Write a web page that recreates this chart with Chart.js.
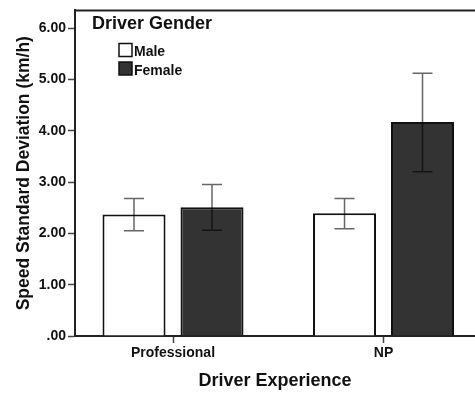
<!DOCTYPE html>
<html>
<head>
<meta charset="utf-8">
<script src="https://cdn.jsdelivr.net/npm/chart.js@4.4.1/dist/chart.umd.min.js"></script>
<style>
    html, body { margin: 0; padding: 0; background: #fff; overflow: hidden; }
    #wrap { width: 475px; height: 398px; position: relative; }
</style>
</head>
<body>
<div id="wrap"><canvas id="chart"></canvas></div>
<script>
const categories = ['Professional', 'NP'];
const seriesNames = ['Male', 'Female'];
const maleMeans = [2.37, 2.39];
const femaleMeans = [2.51, 4.17];
const maleLow = [2.05, 2.09];
const maleHigh = [2.68, 2.68];
const femaleLow = [2.06, 3.20];
const femaleHigh = [2.95, 5.12];
const yTicks = [0, 1, 2, 3, 4, 5, 6];

const FONT = "'Liberation Sans', Arial, sans-serif";

// error bars drawn after the bars, from the low/high arrays
const errorBars = {
    id: 'errorBars',
    afterDatasetsDraw(chart) {
        const ctx = chart.ctx;
        const y = chart.scales.y;
        const ranges = [[maleLow, maleHigh], [femaleLow, femaleHigh]];
        ctx.save();
        ctx.strokeStyle = 'rgba(0,0,0,0.6)';
        ctx.lineWidth = 1.5;
        chart.data.datasets.forEach((ds, i) => {
            chart.getDatasetMeta(i).data.forEach((bar, j) => {
                const lo = y.getPixelForValue(ranges[i][0][j]);
                const hi = y.getPixelForValue(ranges[i][1][j]);
                ctx.beginPath();
                ctx.moveTo(bar.x, lo); ctx.lineTo(bar.x, hi);
                ctx.moveTo(bar.x - 10, lo); ctx.lineTo(bar.x + 10, lo);
                ctx.moveTo(bar.x - 10, hi); ctx.lineTo(bar.x + 10, hi);
                ctx.stroke();
            });
        });
        ctx.restore();
    }
};

// top frame line + legend block in the corner
const frame = {
    id: 'frame',
    afterDraw(chart) {
        const ctx = chart.ctx;
        const a = chart.chartArea;
        ctx.save();
        ctx.strokeStyle = '#222';
        ctx.lineWidth = 2;
        ctx.beginPath();
        ctx.moveTo(a.left - 1, a.top);
        ctx.lineTo(a.right, a.top);
        ctx.stroke();

        ctx.fillStyle = '#111';
        ctx.font = 'bold 18px ' + FONT;
        ctx.textBaseline = 'alphabetic';
        ctx.fillText('Driver Gender', 92, 29);

        ctx.font = 'bold 14px ' + FONT;
        chart.data.datasets.forEach((ds, i) => {
            const top = 43.5 + i * 18.5;
            ctx.fillStyle = ds.backgroundColor;
            ctx.fillRect(119, top, 13, 13);
            ctx.lineWidth = 1.5;
            ctx.strokeStyle = '#111';
            ctx.strokeRect(119, top, 13, 13);
            ctx.fillStyle = '#111';
            ctx.fillText(ds.label, 134, top + 12.5);
        });
        ctx.restore();
    }
};

new Chart(document.getElementById('chart'), {
    type: 'bar',
    data: {
        datasets: [
            {
                label: seriesNames[0],
                data: maleMeans.map((v, i) => ({ x: i + 1, y: v })),
                backgroundColor: '#ffffff',
                borderColor: '#111',
                borderWidth: 2
            },
            {
                label: seriesNames[1],
                data: femaleMeans.map((v, i) => ({ x: i + 1, y: v })),
                backgroundColor: '#333333',
                borderColor: '#111',
                borderWidth: 2
            }
        ]
    },
    options: {
        responsive: true,
        maintainAspectRatio: false,
        animation: false,
        categoryPercentage: 0.741,
        barPercentage: 0.808,
        layout: { padding: { top: 6, left: 0, right: 0, bottom: 0 } },
        plugins: {
            legend: { display: false },
            tooltip: { enabled: false }
        },
        scales: {
            x: {
                type: 'linear',
                offset: false,
                min: 0.5344,
                max: 2.4346,
                afterBuildTicks: s => { s.ticks = categories.map((c, i) => ({ value: i + 1 })); },
                afterFit: s => { s.height = 62; },
                grid: { offset: false, drawOnChartArea: false, tickLength: 7, tickColor: '#444', tickWidth: 1.5 },
                border: { color: '#222', width: 2 },
                ticks: {
                    color: '#111',
                    padding: 2,
                    font: { family: FONT, size: 14, weight: 'bold' },
                    callback: v => categories[v - 1] || ''
                },
                title: {
                    display: true,
                    text: 'Driver Experience',
                    color: '#111',
                    padding: { top: 0, bottom: 6 },
                    font: { family: FONT, size: 18, weight: 'bold' }
                }
            },
            y: {
                min: 0,
                max: 6.345,
                afterBuildTicks: s => { s.ticks = yTicks.map(v => ({ value: v })); },
                afterFit: s => { s.width = 75; },
                grid: { drawOnChartArea: false, tickLength: 7, tickColor: '#444', tickWidth: 1.5 },
                border: { color: '#222', width: 2 },
                ticks: {
                    color: '#111',
                    padding: 2,
                    font: { family: FONT, size: 14, weight: 'bold' },
                    callback: v => v === 0 ? '.00' : v.toFixed(2)
                },
                title: {
                    display: true,
                    text: 'Speed Standard Deviation (km/h)',
                    color: '#111',
                    padding: { top: 14, bottom: 0 },
                    font: { family: FONT, size: 17.5, weight: 'bold' }
                }
            }
        }
    },
    plugins: [errorBars, frame]
});
</script>
</body>
</html>
